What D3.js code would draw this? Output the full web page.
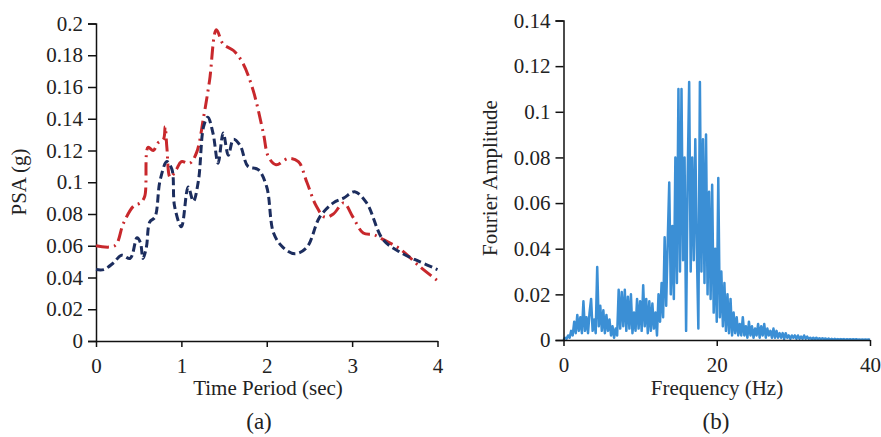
<!DOCTYPE html>
<html lang="en">
  <head>
    <meta charset="utf-8">
    <title>PSA and Fourier spectrum</title>
    <script src="https://d3js.org/d3.v7.min.js"></script>
    <style>
      body { margin: 0; background: #fff; }
      svg { display: block; font-family: "Liberation Serif", "Times New Roman", serif; }
      .axis path, .axis line { stroke: #111; stroke-width: 1.5; }
      .axis text { font-size: 21px; fill: #222; font-family: "Liberation Serif", serif; }
      .title { font-size: 21px; fill: #222; }
      .panel { font-size: 23px; fill: #222; }
    </style>
  </head>
  <body>
    <script>
      // (a) response spectra
      const periods =  [0, 0.22, 0.32, 0.44, 0.52, 0.57, 0.61, 0.67, 0.73, 0.79, 0.81, 0.83, 0.87, 0.94, 1.0, 1.1, 1.18, 1.26, 1.33, 1.41, 1.49, 1.61, 1.72, 1.84, 1.96, 2.02, 2.11, 2.25, 2.37, 2.47, 2.58, 2.68, 2.78, 2.9, 3.01, 3.13, 3.25, 3.36, 3.56, 3.79, 4.0];
      const psaRed =   [0.060, 0.060, 0.074, 0.085, 0.087, 0.091, 0.122, 0.120, 0.125, 0.127, 0.135, 0.122, 0.103, 0.108, 0.113, 0.112, 0.119, 0.141, 0.164, 0.196, 0.187, 0.183, 0.175, 0.158, 0.131, 0.116, 0.111, 0.115, 0.113, 0.100, 0.085, 0.078, 0.080, 0.087, 0.078, 0.068, 0.067, 0.064, 0.058, 0.047, 0.038];

      const periodsBlue = [0, 0.09, 0.2, 0.3, 0.4, 0.48, 0.52, 0.55, 0.59, 0.63, 0.69, 0.75, 0.83, 0.89, 0.92, 1.0, 1.08, 1.14, 1.2, 1.26, 1.31, 1.37, 1.43, 1.49, 1.55, 1.61, 1.69, 1.78, 1.9, 2.0, 2.08, 2.19, 2.33, 2.47, 2.62, 2.78, 2.9, 3.03, 3.17, 3.36, 3.56, 3.79, 4.0];
      const psaBlue =     [0.045, 0.045, 0.049, 0.054, 0.052, 0.065, 0.062, 0.052, 0.059, 0.075, 0.078, 0.101, 0.113, 0.108, 0.085, 0.072, 0.097, 0.088, 0.101, 0.135, 0.141, 0.131, 0.112, 0.131, 0.117, 0.127, 0.123, 0.110, 0.108, 0.097, 0.068, 0.059, 0.055, 0.059, 0.078, 0.087, 0.090, 0.094, 0.087, 0.064, 0.056, 0.050, 0.045];

      const psaTicks = [0, 0.02, 0.04, 0.06, 0.08, 0.1, 0.12, 0.14, 0.16, 0.18, 0.2];
      const periodTicks = [0, 1, 2, 3, 4];

      // (b) Fourier amplitude, one value every 0.2 Hz from 0 to 40 Hz
      const freqStep = 0.2;
      const fourierAmp = [
        0, 0.001, 0.0005, 0.002, 0.001, 0.004, 0.002, 0.008, 0.003, 0.011,
        0.004, 0.010, 0.003, 0.017, 0.004, 0.010, 0.003, 0.012, 0.018, 0.004,
        0.009, 0.003, 0.032, 0.006, 0.015, 0.004, 0.013, 0.003, 0.011, 0.004,
        0.009, 0.002, 0.006, 0.001, 0.005, 0.002, 0.022, 0.005, 0.021, 0.006,
        0.022, 0.004, 0.019, 0.005, 0.020, 0.003, 0.012, 0.004, 0.018, 0.005,
        0.017, 0.004, 0.024, 0.006, 0.018, 0.003, 0.017, 0.004, 0.016, 0.005,
        0.012, 0.002, 0.020, 0.008, 0.025, 0.010, 0.045, 0.015, 0.043, 0.069,
        0.020, 0.050, 0.018, 0.080, 0.025, 0.110, 0.030, 0.110, 0.035, 0.080,
        0.004, 0.070, 0.113, 0.030, 0.080, 0.035, 0.088, 0.040, 0.005, 0.113,
        0.030, 0.088, 0.025, 0.090, 0.020, 0.065, 0.018, 0.068, 0.012, 0.040,
        0.008, 0.071, 0.010, 0.030, 0.006, 0.025, 0.004, 0.020, 0.003, 0.018,
        0.002, 0.012, 0.003, 0.010, 0.002, 0.007, 0.002, 0.010, 0.002, 0.006,
        0.001, 0.008, 0.002, 0.006, 0.001, 0.005, 0.002, 0.007, 0.001, 0.006,
        0.002, 0.007, 0.001, 0.005, 0.002, 0.004, 0.001, 0.005, 0.001, 0.004,
        0.001, 0.003, 0.001, 0.003, 0.0005, 0.003, 0.001, 0.002, 0.0005, 0.002,
        0.001, 0.002, 0.0005, 0.002, 0.0005, 0.0015, 0.0005, 0.002, 0.0005, 0.0015,
        0.0005, 0.001, 0.0003, 0.001, 0.0003, 0.001, 0.0003, 0.0008, 0.0003, 0.0008,
        0.0003, 0.0007, 0.0002, 0.0006, 0.0002, 0.0005, 0.0002, 0.0005, 0.0002, 0.0004,
        0.0002, 0.0004, 0.0002, 0.0004, 0.0001, 0.0003, 0.0001, 0.0003, 0.0001, 0.0003,
        0.0001, 0.0003, 0.0001, 0.0002, 0.0001, 0.0002, 0.0001, 0.0002, 0.0001, 0.0002,
        0.0001
      ];
      const ampTicks = [0, 0.02, 0.04, 0.06, 0.08, 0.1, 0.12, 0.14];
      const freqTicks = [0, 20, 40];

      const width = 881;
      const height = 437;
      const fmt = (d) => String(+d.toFixed(2));

      const svg = d3.select("body").append("svg")
                    .attr("width", width)
                    .attr("height", height);

      // ----- panel (a)
      const xA = d3.scaleLinear().domain([0, 4]).range([96, 437.5]);
      const yA = d3.scaleLinear().domain([0, 0.2]).range([341, 23.5]);

      const lineRed = d3.line()
                        .x((d, i) => xA(periods[i]))
                        .y((d) => yA(d))
                        .curve(d3.curveCatmullRom.alpha(0.5));
      const lineBlue = d3.line()
                        .x((d, i) => xA(periodsBlue[i]))
                        .y((d) => yA(d))
                        .curve(d3.curveCatmullRom.alpha(0.5));

      svg.append("g").attr("class", "axis")
         .attr("transform", "translate(96,0)")
         .call(d3.axisLeft(yA).tickValues(psaTicks).tickFormat(fmt).tickSize(8).tickPadding(5));
      svg.append("g").attr("class", "axis")
         .attr("transform", "translate(0,341)")
         .call(d3.axisBottom(xA).tickValues(periodTicks).tickFormat(fmt).tickSize(6).tickSizeOuter(0).tickPadding(11));

      svg.append("path").datum(psaRed)
         .attr("d", lineRed)
         .attr("fill", "none")
         .attr("stroke", "#c8282c")
         .attr("stroke-width", 3)
         .attr("stroke-dasharray", "13 5 2 5");
      svg.append("path").datum(psaBlue)
         .attr("d", lineBlue)
         .attr("fill", "none")
         .attr("stroke", "#1c2d5e")
         .attr("stroke-width", 3)
         .attr("stroke-dasharray", "8 4");

      svg.append("text").attr("class", "title")
         .attr("x", 268).attr("y", 395).attr("text-anchor", "middle")
         .text("Time Period (sec)");
      svg.append("text").attr("class", "title")
         .attr("transform", "translate(26,182) rotate(-90)")
         .attr("text-anchor", "middle")
         .text("PSA (g)");
      svg.append("text").attr("class", "panel")
         .attr("x", 259).attr("y", 429).attr("text-anchor", "middle")
         .text("(a)");

      // ----- panel (b)
      const xB = d3.scaleLinear().domain([0, 40]).range([563.5, 870]);
      const yB = d3.scaleLinear().domain([0, 0.14]).range([340, 20.5]);

      const lineFft = d3.line()
                        .x((d, i) => xB(i * freqStep))
                        .y((d) => yB(d));

      svg.append("path").datum(fourierAmp)
         .attr("d", lineFft)
         .attr("fill", "none")
         .attr("stroke", "#3b8fd5")
         .attr("stroke-width", 2.5)
         .attr("stroke-linejoin", "round");

      svg.append("g").attr("class", "axis")
         .attr("transform", "translate(563.5,0)")
         .call(d3.axisLeft(yB).tickValues(ampTicks).tickFormat(fmt).tickSize(8).tickPadding(5));
      svg.append("g").attr("class", "axis")
         .attr("transform", "translate(0,340)")
         .call(d3.axisBottom(xB).tickValues(freqTicks).tickFormat(fmt).tickSize(6).tickSizeOuter(0).tickPadding(11));

      svg.append("text").attr("class", "title")
         .attr("x", 717).attr("y", 395).attr("text-anchor", "middle")
         .text("Frequency (Hz)");
      svg.append("text").attr("class", "title")
         .attr("transform", "translate(497,178) rotate(-90)")
         .attr("text-anchor", "middle")
         .text("Fourier Amplitude");
      svg.append("text").attr("class", "panel")
         .attr("x", 716).attr("y", 429).attr("text-anchor", "middle")
         .text("(b)");
    </script>
  </body>
</html>
